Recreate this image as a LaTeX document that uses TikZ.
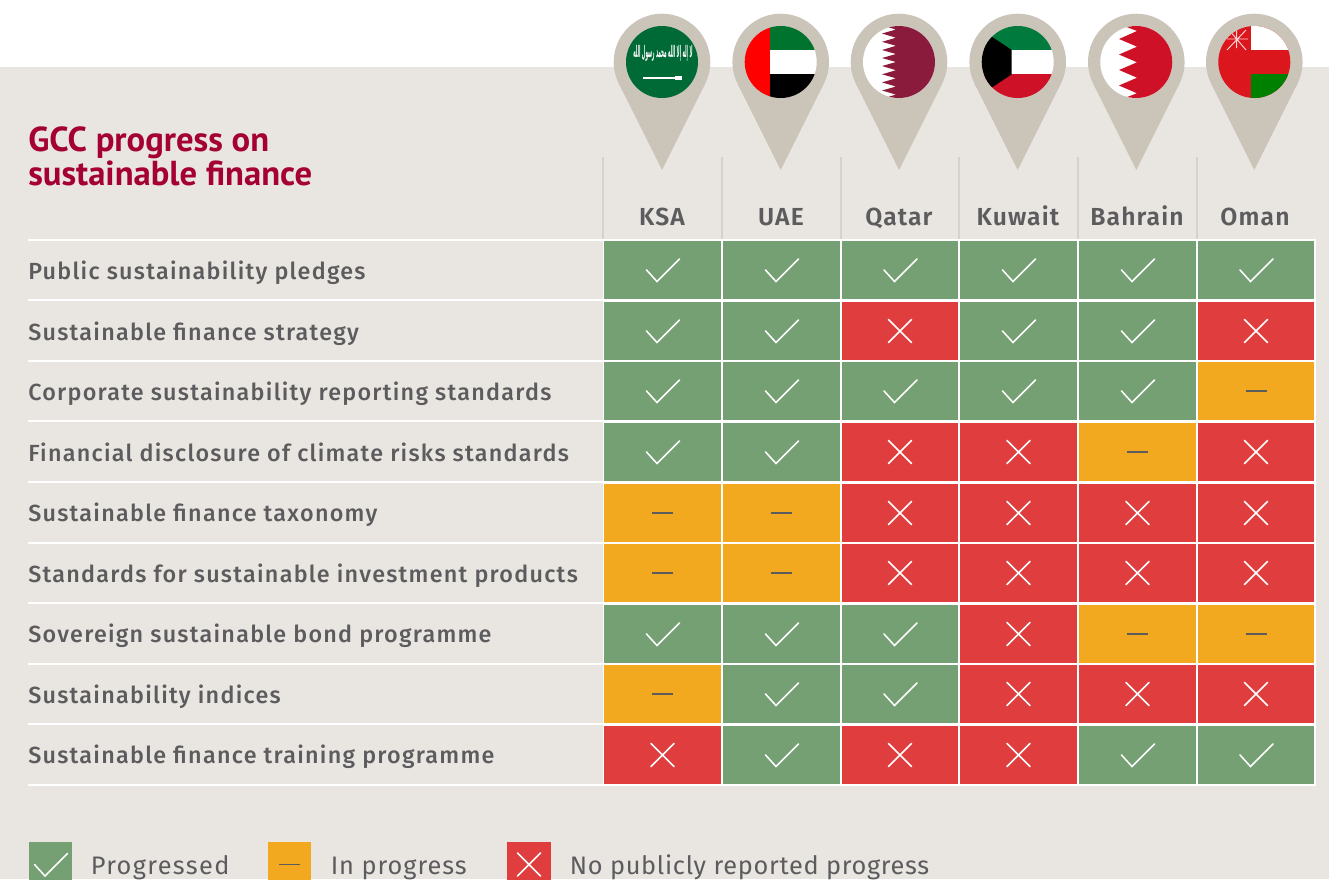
\documentclass[tikz,border=0pt]{standalone}
\usepackage{fontspec}
\usepackage{graphicx}
\setmainfont{PT Sans}
\TeXXeTstate=1
\newfontfamily\din[LetterSpace=5.4]{Fira Sans Medium}
\newfontfamily\dinhead[LetterSpace=4.5]{Fira Sans SemiBold}
\newfontfamily\dinleg[LetterSpace=2.8]{Fira Sans}
\newfontfamily\dinlegb[LetterSpace=5.4]{Fira Sans}
\newfontfamily\dinlegc[LetterSpace=3.8]{Fira Sans}
\newfontfamily\arabicfont[Script=Arabic]{DejaVu Sans}
\definecolor{bgc}{HTML}{E9E6E1}
\definecolor{pinc}{HTML}{CBC4B9}
\definecolor{sepc}{HTML}{D6D1CB}
\definecolor{grn}{HTML}{75A073}
\definecolor{amb}{HTML}{F2A81F}
\definecolor{redc}{HTML}{E03E3E}
\definecolor{txt}{HTML}{5C5B5D}
\definecolor{ttl}{HTML}{A50034}
\definecolor{fksa}{RGB}{0,106,55}
\definecolor{fuaeg}{RGB}{0,115,47}
\definecolor{fqat}{RGB}{138,27,61}
\definecolor{fkwg}{RGB}{0,122,61}
\definecolor{fkwr}{RGB}{206,17,38}
\definecolor{fomr}{RGB}{219,22,28}
\definecolor{fomg}{RGB}{0,128,0}
\tikzset{x=0.75pt,y=-0.75pt,
  rowlab/.style={anchor=base west,inner sep=0pt,text=txt,font=\fontsize{17.5pt}{20pt}\din},
  colhead/.style={anchor=base,inner sep=0pt,text=txt,font=\fontsize{18.5pt}{20pt}\dinhead},
  legtxt/.style={anchor=base west,inner sep=0pt,text=txt,font=\fontsize{19pt}{22pt}\dinleg},
  titletxt/.style={anchor=base west,inner sep=0pt,text=ttl,font=\fontsize{26pt}{28pt}\selectfont\bfseries},
  markline/.style={line width=1.15pt,white,line cap=round,line join=miter},
  dashline/.style={line width=1.15pt,txt}}
\newcommand{\cellG}[4]{\fill[grn] (#1,#2) rectangle (#3,#4);
  \draw[markline] ({(#1+#3)/2-16},{(#2+#4)/2}) -- ({(#1+#3)/2-5.5},{(#2+#4)/2+11.5}) -- ({(#1+#3)/2+17},{(#2+#4)/2-11});}
\newcommand{\cellA}[4]{\fill[amb] (#1,#2) rectangle (#3,#4);
  \draw[dashline] ({(#1+#3)/2-10.5},{(#2+#4)/2}) -- ({(#1+#3)/2+10.5},{(#2+#4)/2});}
\newcommand{\cellR}[4]{\fill[redc] (#1,#2) rectangle (#3,#4);
  \draw[markline] ({(#1+#3)/2-11.5},{(#2+#4)/2-11.5}) -- ({(#1+#3)/2+11.5},{(#2+#4)/2+11.5}) ({(#1+#3)/2-11.5},{(#2+#4)/2+11.5}) -- ({(#1+#3)/2+11.5},{(#2+#4)/2-11.5});}
\newcommand{\pinshape}[1]{\fill[pinc] (#1,62) circle[radius=48.3];
   \fill[pinc] (#1-43.2,83.6) -- (#1,170) -- (#1+43.2,83.6) -- cycle;}
\begin{document}
\begin{tikzpicture}
\useasboundingbox (0,0) rectangle (1329,879);
\fill[white] (0,0) rectangle (1329,879);
\fill[bgc] (0,67) rectangle (1329,879);
\foreach \xx in {603,722,841,959,1078,1197}{\fill[sepc] (\xx-1,157) rectangle (\xx+1,239);}
\fill[white] (603,239) rectangle (1316,786);
\fill[white] (28,239) rectangle (603,241);
\foreach \yy in {300,361,421,482,543,603,664,724,785}{\fill[white] (28,\yy-1) rectangle (603,\yy+1);}
\foreach \xx in {662,780.7,899,1017.7,1136.3,1254.3}{\pinshape{\xx}}
% KSA
\begin{scope}\clip (662,62) circle[radius=36];
\fill[fksa] (620,20) rectangle (704,104);
\node[inner sep=0pt,white,font=\fontsize{5pt}{5pt}\arabicfont\bfseries] (shahada) at (663,53) {\scalebox{0.62}[2.4]{\beginR لا إله إلا الله محمد رسول الله\endR}};
\fill[white] (643,77.2) rectangle (682,79);
\fill[white] (675,76) rectangle (682,80);
\end{scope}
% UAE
\begin{scope}\clip (780.7,62) circle[radius=36];
\fill[red] (740,20) rectangle (769.5,104);
\fill[fuaeg] (769.5,20) rectangle (825,50);
\fill[white] (769.5,50) rectangle (825,74.3);
\fill[black] (769.5,74.3) rectangle (825,104);
\end{scope}
% Qatar
\begin{scope}\clip (899,62) circle[radius=36];
\fill[white] (860,20) rectangle (940,104);
\fill[fqat] (940,20) -- (870,20) -- (870,22) -- (896,29.5) -- (882,33.5) -- (896,37.7) -- (882,41.8) -- (896,45.8) -- (882,50) -- (896,54) -- (882,58) -- (896,62) -- (882,66) -- (896,70.2) -- (882,74.3) -- (896,78.3) -- (882,82.4) -- (896,86.5) -- (882,90.5) -- (896,94.6) -- (870,102) -- (870,104) -- (940,104) -- cycle;
\end{scope}
% Kuwait
\begin{scope}\clip (1017.7,62) circle[radius=36];
\fill[fkwg] (975,20) rectangle (1060,50);
\fill[white] (975,50) rectangle (1060,74.3);
\fill[fkwr] (975,74.3) rectangle (1060,104);
\fill[black] (975,25.5) -- (1011.7,50) -- (1011.7,74.3) -- (975,98.8) -- cycle;
\end{scope}
% Bahrain
\begin{scope}\clip (1136.3,62) circle[radius=36];
\fill[white] (1095,20) rectangle (1180,104);
\fill[fkwr] (1180,20) -- (1119,20) -- (1119,24) -- (1137,31) -- (1119,39) -- (1137,46.7) -- (1119,54.5) -- (1137,62.3) -- (1119,70) -- (1137,77.7) -- (1119,85.5) -- (1137,93.3) -- (1119,100) -- (1119,104) -- (1180,104) -- cycle;
\end{scope}
% Oman
\begin{scope}\clip (1254.3,62) circle[radius=36];
\fill[fomr] (1215,20) rectangle (1295,104);
\fill[white] (1251,20) rectangle (1295,50);
\fill[fomg] (1251,74.3) rectangle (1295,104);
\draw[white!85!red,line width=0.7pt] (1229,30) -- (1246,50) (1246,30) -- (1227,50) (1227,39) -- (1248,39) (1236.7,30) -- (1236.7,48);
\end{scope}
\node[titletxt] (t1) at (28,151.5) {GCC progress on};
\node[titletxt] (t2) at (28,185.5) {sustainable finance};
\node[colhead] (h1) at (662,225) {KSA};
\node[colhead] (h2) at (781,225) {UAE};
\node[colhead] (h3) at (899,225) {Qatar};
\node[colhead] (h4) at (1018,225) {Kuwait};
\node[colhead] (h5) at (1137,225) {Bahrain};
\node[colhead] (h6) at (1255,225) {Oman};
\node[rowlab] (r1) at (28,279.5) {Public sustainability pledges};
\node[rowlab] (r2) at (28,340.5) {Sustainable finance strategy};
\node[rowlab] (r3) at (28,400.5) {Corporate sustainability reporting standards};
\node[rowlab] (r4) at (28,461.5) {Financial disclosure of climate risks standards};
\node[rowlab] (r5) at (28,521.5) {Sustainable finance taxonomy};
\node[rowlab] (r6) at (28,582.5) {Standards for sustainable investment products};
\node[rowlab] (r7) at (28,642.5) {Sovereign sustainable bond programme};
\node[rowlab] (r8) at (28,703.5) {Sustainability indices};
\node[rowlab] (r9) at (28,763.5) {Sustainable finance training programme};
\newcommand{\rowcells}[8]{%
 \csname cell#3\endcsname{604}{#1}{721}{#2}\csname cell#4\endcsname{723}{#1}{840}{#2}\csname cell#5\endcsname{842}{#1}{958}{#2}\csname cell#6\endcsname{960}{#1}{1077}{#2}\csname cell#7\endcsname{1079}{#1}{1196}{#2}\csname cell#8\endcsname{1198}{#1}{1314}{#2}}
\rowcells{241}{299}GGGGGG
\rowcells{302}{360}GGRGGR
\rowcells{362}{420}GGGGGA
\rowcells{423}{481}GGRRAR
\rowcells{484}{542}AARRRR
\rowcells{544}{602}AARRRR
\rowcells{605}{663}GGGRAA
\rowcells{665}{723}AGGRRR
\rowcells{726}{784}RGRRGG
\cellG{29}{842}{72}{887}
\cellA{268}{842}{311}{887}
\cellR{507}{842}{551}{887}
\node[legtxt] (l1) at (90.5,874) {\dinlegb Progressed};
\node[legtxt] (l2) at (330.5,874) {\dinlegc In progress};
\node[legtxt] (l3) at (569.5,874) {No publicly reported progress};
\end{tikzpicture}
\end{document}
